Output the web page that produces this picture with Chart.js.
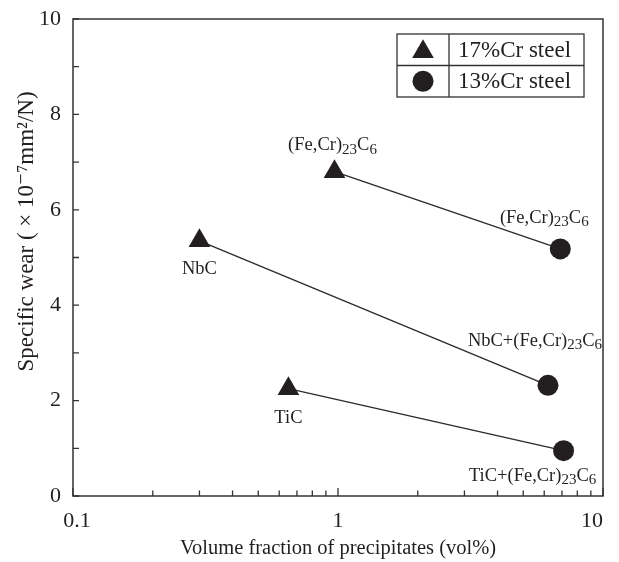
<!DOCTYPE html>
<html>
<head>
<meta charset="utf-8">
<script src="https://cdn.jsdelivr.net/npm/chart.js@4/dist/chart.umd.min.js"></script>
<style>
  html, body { margin: 0; padding: 0; background: #ffffff; }
  #wrap { width: 619px; height: 562px; }
</style>
</head>
<body>
<div id="wrap"><canvas id="chart" width="619" height="562"></canvas></div>
<script>
// Volumen de precipitados (vol%) y desgaste específico
const steel17Name = '17%Cr steel';
const steel13Name = '13%Cr steel';
const steel17Vol = [0.97, 0.30, 0.65];
const steel17Wear = [6.8, 5.35, 2.25];
const steel13Vol = [6.9, 6.2, 7.1];
const steel13Wear = [5.18, 2.32, 0.95];
const steel17Phases = ['(Fe,Cr)_23C_6', 'NbC', 'TiC'];
const steel13Phases = ['(Fe,Cr)_23C_6', 'NbC+(Fe,Cr)_23C_6', 'TiC+(Fe,Cr)_23C_6'];
const xTickValues = [0.1, 1, 10];
const xTickLabels = ['0.1', '1', '10'];
const xMinorValues = [0.2, 0.3, 0.4, 0.5, 0.6, 0.7, 0.8, 0.9, 2, 3, 4, 5, 6, 7, 8, 9];
const yMinorValues = [1, 3, 5, 7, 9];
const yTitle = 'Specific wear ( × 10⁻⁷mm²/N)';

// Desplazamientos de etiquetas (px)
const offsets17 = [[-2, -26], [0, 28], [0, 29]];
const offsets13 = [[-16, -31], [-13, -44], [-31, 25]];
const xLabelShift = [4, 0, -11];

const INK = '#231f20';
const FONT = '"Liberation Serif", "DejaVu Serif", serif';

const toPoints = (xs, ys) => xs.map((x, i) => ({ x: x, y: ys[i] }));

// Segmentos que unen cada acero 17%Cr con su equivalente 13%Cr
const pairLines = steel17Vol.map((v, i) => ({
    label: 'pair' + i,
    data: [{ x: v, y: steel17Wear[i] }, { x: steel13Vol[i], y: steel13Wear[i] }],
    showLine: true,
    borderColor: '#2a2a2a',
    borderWidth: 1.3,
    pointRadius: 0,
    order: 2
}));

// Texto con subíndices: "_23" se dibuja más pequeño y más abajo
function drawRichText(ctx, text, cx, cy, size) {
    const parts = text.split(/(_\d+)/).filter(p => p.length);
    const subSize = Math.round(size * 0.8);
    const pieces = parts.map(p => {
        const sub = p[0] === '_';
        const s = sub ? p.slice(1) : p;
        ctx.font = (sub ? subSize : size) + 'px ' + FONT;
        return { s: s, sub: sub, w: ctx.measureText(s).width };
    });
    const total = pieces.reduce((a, p) => a + p.w, 0);
    let x = cx - total / 2;
    ctx.textAlign = 'left';
    ctx.textBaseline = 'middle';
    ctx.fillStyle = INK;
    pieces.forEach(p => {
        ctx.font = (p.sub ? subSize : size) + 'px ' + FONT;
        ctx.fillText(p.s, x, p.sub ? cy + 4 : cy);
        x += p.w;
    });
}

function drawMarker(ctx, style, x, y, r) {
    ctx.save();
    ctx.fillStyle = INK;
    ctx.beginPath();
    if (style === 'triangle') {
        let rad = 0;
        ctx.moveTo(x + Math.sin(rad) * r, y - Math.cos(rad) * r);
        rad += 2 * Math.PI / 3;
        ctx.lineTo(x + Math.sin(rad) * r, y - Math.cos(rad) * r);
        rad += 2 * Math.PI / 3;
        ctx.lineTo(x + Math.sin(rad) * r, y - Math.cos(rad) * r);
        ctx.closePath();
    } else {
        ctx.arc(x, y, r, 0, Math.PI * 2);
    }
    ctx.fill();
    ctx.restore();
}

const framePlugin = {
    id: 'frame',
    afterDatasetsDraw(chart) {
        const { ctx, chartArea: a, scales } = chart;
        const xs = scales.x, ys = scales.y;
        ctx.save();
        ctx.strokeStyle = '#333333';
        ctx.lineWidth = 1.5;
        ctx.strokeRect(a.left, a.top, a.right - a.left, a.bottom - a.top);

        // Marcas hacia dentro
        ctx.lineWidth = 1.3;
        ctx.beginPath();
        xTickValues.forEach(v => {
            const px = xs.getPixelForValue(v);
            ctx.moveTo(px, a.bottom); ctx.lineTo(px, a.bottom - 8);
        });
        xMinorValues.forEach(v => {
            const px = xs.getPixelForValue(v);
            ctx.moveTo(px, a.bottom); ctx.lineTo(px, a.bottom - 5.5);
        });
        ys.ticks.forEach(t => {
            const py = ys.getPixelForValue(t.value);
            ctx.moveTo(a.left, py); ctx.lineTo(a.left + 6, py);
        });
        yMinorValues.forEach(v => {
            const py = ys.getPixelForValue(v);
            ctx.moveTo(a.left, py); ctx.lineTo(a.left + 6, py);
        });
        ctx.stroke();

        // Números del eje x
        ctx.fillStyle = INK;
        ctx.font = '22px ' + FONT;
        ctx.textAlign = 'center';
        ctx.textBaseline = 'middle';
        xTickValues.forEach((v, i) => {
            ctx.fillText(xTickLabels[i], xs.getPixelForValue(v) + xLabelShift[i], a.bottom + 25);
        });

        // Título del eje y
        ctx.save();
        ctx.translate(27, (a.top + a.bottom) / 2 - 26);
        ctx.rotate(-Math.PI / 2);
        ctx.font = '23px ' + FONT;
        ctx.fillText(yTitle, 0, 0);
        ctx.restore();

        // Etiquetas de fase junto a cada punto
        const m17 = chart.getDatasetMeta(3);
        const m13 = chart.getDatasetMeta(4);
        m17.data.forEach((pt, i) => {
            drawRichText(ctx, steel17Phases[i], pt.x + offsets17[i][0], pt.y + offsets17[i][1], 18.5);
        });
        m13.data.forEach((pt, i) => {
            drawRichText(ctx, steel13Phases[i], pt.x + offsets13[i][0], pt.y + offsets13[i][1], 18.5);
        });

        // Leyenda en forma de tabla
        const w = 187, rowH = 31.5, col = 52;
        const lx = a.right - 19 - w, ly = a.top + 15;
        ctx.fillStyle = '#ffffff';
        ctx.fillRect(lx, ly, w, rowH * 2);
        ctx.strokeStyle = '#333333';
        ctx.lineWidth = 1.3;
        ctx.strokeRect(lx, ly, w, rowH * 2);
        ctx.beginPath();
        ctx.moveTo(lx, ly + rowH); ctx.lineTo(lx + w, ly + rowH);
        ctx.moveTo(lx + col, ly); ctx.lineTo(lx + col, ly + rowH * 2);
        ctx.stroke();
        const rows = [[3, steel17Name], [4, steel13Name]];
        rows.forEach((r, i) => {
            const ds = chart.data.datasets[r[0]];
            const cy = ly + rowH * i + rowH / 2;
            drawMarker(ctx, ds.pointStyle, lx + col / 2, cy + (ds.pointStyle === 'triangle' ? 2 : 0), ds.pointRadius);
            ctx.font = '23px ' + FONT;
            ctx.fillStyle = INK;
            ctx.textAlign = 'left';
            ctx.textBaseline = 'middle';
            ctx.fillText(r[1], lx + col + 9, cy + 1);
        });
        ctx.restore();
    }
};

new Chart(document.getElementById('chart'), {
    type: 'scatter',
    data: {
        datasets: [
            ...pairLines,
            {
                label: steel17Name,
                data: toPoints(steel17Vol, steel17Wear),
                pointStyle: 'triangle',
                pointRadius: 12.5,
                backgroundColor: INK,
                borderColor: INK,
                borderWidth: 0,
                order: 1
            },
            {
                label: steel13Name,
                data: toPoints(steel13Vol, steel13Wear),
                pointStyle: 'circle',
                pointRadius: 10.5,
                backgroundColor: INK,
                borderColor: INK,
                borderWidth: 0,
                order: 1
            }
        ]
    },
    options: {
        responsive: false,
        animation: false,
        layout: { padding: { top: 19, right: 16, left: 0, bottom: 0 } },
        plugins: {
            legend: { display: false },
            tooltip: { enabled: false }
        },
        scales: {
            x: {
                type: 'logarithmic',
                min: 0.1,
                max: 10,
                afterBuildTicks: scale => {
                    scale.ticks = xTickValues.map(v => ({ value: v }));
                },
                afterFit: scale => { scale.height = 66; },
                grid: { display: false },
                border: { display: false },
                ticks: { display: false },
                title: {
                    display: true,
                    text: 'Volume fraction of precipitates (vol%)',
                    color: INK,
                    font: { family: FONT, size: 20.5 },
                    padding: { top: 0, bottom: 1 }
                }
            },
            y: {
                min: 0,
                max: 10,
                afterFit: scale => { scale.width = 73; },
                grid: { display: false },
                border: { display: false },
                ticks: {
                    stepSize: 2,
                    color: INK,
                    font: { family: FONT, size: 22 },
                    padding: 4
                }
            }
        }
    },
    plugins: [framePlugin]
});
</script>
</body>
</html>
